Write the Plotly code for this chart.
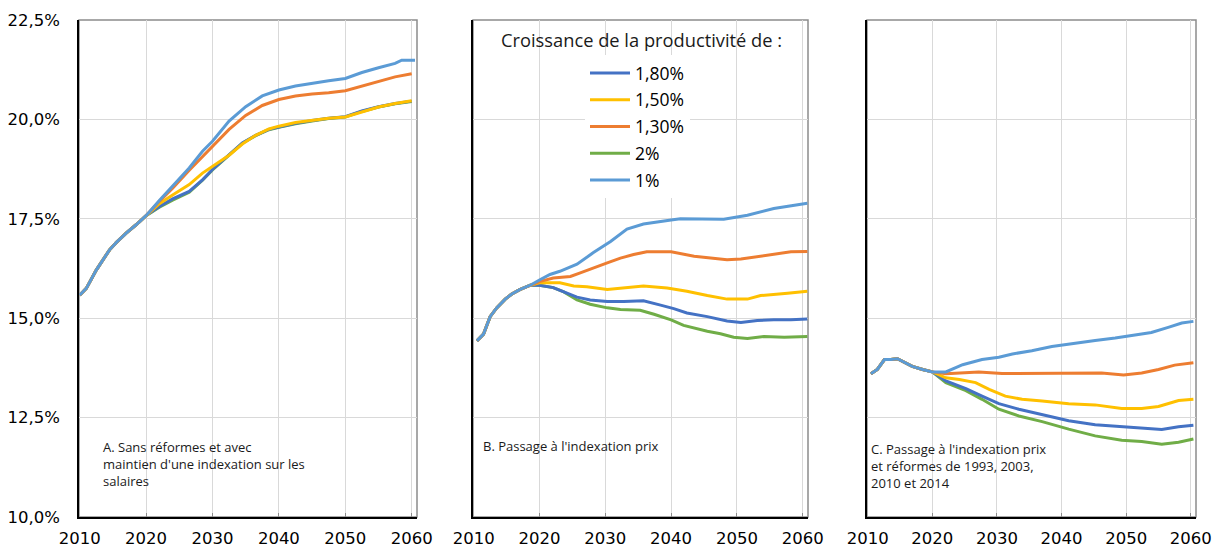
import plotly.graph_objects as go

# ---------------- DATA ----------------
series_names = ["1,80%", "1,50%", "1,30%", "2%", "1%"]
series_colors = ["#4472C4", "#FFC000", "#ED7D31", "#70AD47", "#5B9BD5"]

y_tickvals = [10.0, 12.5, 15.0, 17.5, 20.0, 22.5]
y_ticktext = ["10,0%", "12,5%", "15,0%", "17,5%", "20,0%", "22,5%"]
x_tickvals = [2010, 2020, 2030, 2040, 2050, 2060]

# Panel A (common start 2010-2020)
A_common_x = [2010, 2011, 2012.5, 2014.5, 2015.5, 2017, 2018.5, 2020]
A_common_y = [15.58, 15.75, 16.21, 16.72, 16.9, 17.14, 17.35, 17.58]
A_x = [2022, 2024, 2026.5, 2028.5, 2030, 2032.5, 2034.5, 2036.5, 2038.5, 2040,
       2042.5, 2045, 2047.5, 2050, 2052.5, 2055, 2057.5, 2060]
A_180 = [17.81, 18.0, 18.19, 18.48, 18.74, 19.12, 19.41, 19.6, 19.75, 19.81,
         19.9, 19.97, 20.03, 20.07, 20.21, 20.32, 20.4, 20.46]
A_200 = [17.79, 17.97, 18.17, 18.47, 18.73, 19.11, 19.4, 19.59, 19.74, 19.8,
         19.89, 19.96, 20.02, 20.06, 20.2, 20.31, 20.39, 20.45]
A_150 = [17.88, 18.1, 18.36, 18.65, 18.82, 19.1, 19.38, 19.6, 19.76, 19.83,
         19.92, 19.98, 20.03, 20.06, 20.19, 20.31, 20.4, 20.47]
A_130_x = [2022, 2024, 2026.5, 2028.5, 2030, 2032.5, 2035, 2037.5, 2040, 2042.5,
           2045, 2047.5, 2050, 2052.5, 2055, 2057.5, 2060]
A_130 = [17.94, 18.27, 18.72, 19.07, 19.33, 19.75, 20.1, 20.35, 20.5, 20.59,
         20.64, 20.67, 20.72, 20.84, 20.95, 21.07, 21.15]
A_100_x = [2022, 2024, 2026.5, 2028.5, 2030, 2032.5, 2035, 2037.5, 2040, 2042.5,
           2045, 2047.5, 2050, 2052.5, 2055, 2057.5, 2058.5, 2060.5]
A_100 = [17.96, 18.32, 18.78, 19.2, 19.45, 19.96, 20.32, 20.59, 20.74, 20.84,
         20.91, 20.97, 21.03, 21.18, 21.3, 21.41, 21.49, 21.49]

# Panel B (common start)
B_common_x = [2010.5, 2011.5, 2012.5, 2013.5, 2014.8, 2015.8, 2017, 2018.6]
B_common_y = [14.43, 14.6, 15.04, 15.26, 15.48, 15.61, 15.72, 15.83]
B_180_x = [2020, 2022.1, 2023.7, 2025.7, 2027.7, 2030.3, 2032.8, 2035.8, 2038.4, 2040.4,
           2042.4, 2045.5, 2048.5, 2050.6, 2053.1, 2055.6, 2058.2, 2060.7]
B_180 = [15.83, 15.77, 15.66, 15.53, 15.46, 15.42, 15.42, 15.44, 15.33, 15.24,
         15.13, 15.04, 14.93, 14.89, 14.94, 14.96, 14.96, 14.98]
B_200_x = [2020, 2022.1, 2023.7, 2025.7, 2027.7, 2030.3, 2032.3, 2035.3, 2037.4, 2040,
           2041.9, 2045.5, 2047.5, 2049.5, 2051.6, 2054.1, 2057.2, 2060.7]
B_200 = [15.83, 15.77, 15.66, 15.46, 15.35, 15.26, 15.22, 15.2, 15.1, 14.96,
         14.82, 14.67, 14.61, 14.52, 14.49, 14.54, 14.52, 14.54]
B_150_x = [2020, 2023.1, 2025.2, 2027.2, 2030.3, 2032.3, 2035.8, 2039.4, 2042.4, 2045.5,
           2048.5, 2051.6, 2053.6, 2057.7, 2060.7]
B_150 = [15.89, 15.89, 15.81, 15.79, 15.72, 15.75, 15.81, 15.76, 15.68, 15.57,
         15.48, 15.48, 15.57, 15.63, 15.68]
B_130_x = [2020, 2022.1, 2024.7, 2026.2, 2028.2, 2030.3, 2032.3, 2034.3, 2036.3, 2040,
           2043.5, 2046.5, 2048.5, 2050.6, 2053.6, 2055.6, 2058.2, 2060.7]
B_130 = [15.92, 16.01, 16.05, 16.14, 16.27, 16.39, 16.51, 16.6, 16.67, 16.67,
         16.56, 16.51, 16.47, 16.49, 16.56, 16.62, 16.67, 16.68]
B_100_x = [2020, 2021.6, 2023.1, 2025.7, 2028.2, 2030.8, 2033.3, 2035.8, 2040, 2041.4,
           2048, 2051.6, 2055.6, 2058.2, 2060.7]
B_100 = [15.96, 16.1, 16.18, 16.36, 16.65, 16.93, 17.24, 17.37, 17.47, 17.5,
         17.49, 17.59, 17.76, 17.83, 17.89]

# Panel C (common start)
C_common_x = [2010.5, 2011.5, 2012.6, 2013.6, 2014.6, 2015.4, 2016.9, 2018.5, 2020]
C_common_y = [13.6, 13.71, 13.96, 13.96, 13.98, 13.92, 13.79, 13.71, 13.65]
C_180_x = [2022.1, 2025.2, 2027.7, 2030.3, 2033.4, 2037, 2041.1, 2045.2, 2049.3,
           2052.4, 2055.5, 2058.1, 2060.4]
C_180 = [13.42, 13.23, 13.04, 12.85, 12.71, 12.58, 12.42, 12.32, 12.27,
         12.23, 12.2, 12.27, 12.31]
C_200_x = C_180_x
C_200 = [13.38, 13.18, 12.96, 12.71, 12.54, 12.4, 12.21, 12.04, 11.93,
         11.9, 11.83, 11.88, 11.96]
C_150_x = [2022.1, 2024.2, 2026.7, 2028.8, 2031.3, 2033.9, 2037, 2041.1, 2045.2,
           2049.3, 2052.4, 2055, 2058.1, 2060.4]
C_150 = [13.5, 13.46, 13.38, 13.21, 13.04, 12.96, 12.92, 12.85, 12.82,
         12.73, 12.73, 12.78, 12.93, 12.96]
C_130_x = [2022.1, 2024.7, 2027.2, 2030.8, 2035.9, 2041.1, 2046.2, 2049.6, 2052.4,
           2055, 2057.5, 2060.4]
C_130 = [13.6, 13.62, 13.65, 13.61, 13.61, 13.61, 13.62, 13.57, 13.62,
         13.71, 13.82, 13.88]
C_100_x = [2022.1, 2024.7, 2027.7, 2030.3, 2032.4, 2035.4, 2038.5, 2042.1, 2045.2,
           2048.3, 2051.4, 2053.9, 2056.5, 2058.6, 2060.4]
C_100 = [13.65, 13.83, 13.96, 14.02, 14.1, 14.18, 14.29, 14.38, 14.44,
         14.5, 14.57, 14.64, 14.77, 14.88, 14.92]

annot_A = "A. Sans réformes et avec<br>maintien d'une indexation sur les<br>salaires"
annot_B = "B. Passage à l'indexation prix"
annot_C = "C. Passage à l'indexation prix<br>et réformes de 1993, 2003,<br>2010 et 2014"
legend_title = "Croissance de la productivité de :"

# ---------------- FIGURE ----------------
W, H = 1214, 547
FONT = "Open Sans, DejaVu Sans, sans-serif"
TICKFONT = "DejaVu Sans, sans-serif"
fig = go.Figure()

panels = {
    "A": dict(xa="x", ya="y", common=(A_common_x, A_common_y),
              s={"1,80%": (A_x, A_180), "1,50%": (A_x, A_150), "1,30%": (A_130_x, A_130),
                 "2%": (A_x, A_200), "1%": (A_100_x, A_100)}),
    "B": dict(xa="x2", ya="y2", common=(B_common_x, B_common_y),
              s={"1,80%": (B_180_x, B_180), "1,50%": (B_150_x, B_150), "1,30%": (B_130_x, B_130),
                 "2%": (B_200_x, B_200), "1%": (B_100_x, B_100)}),
    "C": dict(xa="x3", ya="y3", common=(C_common_x, C_common_y),
              s={"1,80%": (C_180_x, C_180), "1,50%": (C_150_x, C_150), "1,30%": (C_130_x, C_130),
                 "2%": (C_200_x, C_200), "1%": (C_100_x, C_100)}),
}

draw_order = ["2%", "1,80%", "1,50%", "1,30%", "1%"]
for pname, p in panels.items():
    cx, cy = p["common"]
    for name in draw_order:
        i = series_names.index(name)
        sx, sy = p["s"][name]
        fig.add_trace(go.Scatter(
            x=list(cx) + list(sx), y=list(cy) + list(sy),
            mode="lines", name=name,
            line=dict(color=series_colors[i], width=3),
            xaxis=p["xa"], yaxis=p["ya"],
            showlegend=(pname == "B"), legendrank=i + 1,
            legendgroup="g%d" % i, hoverinfo="skip",
        ))

doms = [(79 / W, 417 / W), (473 / W, 808 / W), (867 / W, 1196 / W)]
ydom = (1 - 517 / H, 1 - 20 / H)

axis_common_x = dict(range=[2009.9, 2060.8], tickvals=x_tickvals, showgrid=True,
                     gridcolor="#D9D9D9", gridwidth=1, showline=True, linecolor="#000000",
                     linewidth=1.5, ticks="inside", ticklen=4, tickcolor="#8C8C8C",
                     tickfont=dict(family=TICKFONT, size=16.5, color="#000000"),
                     ticklabelstandoff=5, zeroline=False, fixedrange=True,
                     automargin=False)
axis_common_y = dict(range=[10, 22.5], tickvals=y_tickvals, ticktext=y_ticktext,
                     showgrid=True, gridcolor="#D9D9D9", gridwidth=1, showline=True,
                     linecolor="#000000", linewidth=1.5, ticks="", zeroline=False,
                     tickfont=dict(family=TICKFONT, size=16.5, color="#000000"),
                     ticklabelstandoff=14, fixedrange=True, domain=list(ydom),
                     automargin=False)

layout = dict(width=W, height=H, margin=dict(l=0, r=0, t=0, b=0, autoexpand=False),
              paper_bgcolor="white", plot_bgcolor="white", showlegend=True)
for k, (d0, d1) in enumerate(doms):
    sfx = "" if k == 0 else str(k + 1)
    xa = dict(axis_common_x, domain=[d0, d1], anchor="y" + sfx)
    ya = dict(axis_common_y, anchor="x" + sfx, showticklabels=(k == 0))
    layout["xaxis" + sfx] = xa
    layout["yaxis" + sfx] = ya
fig.update_layout(**layout)

# grey top/right frame
for k in range(3):
    sfx = "" if k == 0 else str(k + 1)
    fig.add_shape(type="rect", xref="x" + sfx + " domain", yref="y" + sfx + " domain",
                  x0=0, x1=1, y0=0, y1=1, line=dict(color="#8C8C8C", width=1.5),
                  layer="below")

fig.update_layout(legend=dict(
    x=585 / W, y=1 - 55 / H, xanchor="left", yanchor="top",
    bgcolor="white", borderwidth=0, tracegroupgap=1, itemwidth=40,
    font=dict(family=FONT, size=17.5, color="#000000"),
    traceorder="grouped",
))

def ann(text, x, y, size=13, xanchor="left", yanchor="top", align="left"):
    fig.add_annotation(text=text, x=x / W, y=1 - y / H, xref="paper", yref="paper",
                       showarrow=False, xanchor=xanchor, yanchor=yanchor, align=align,
                       font=dict(family=FONT, size=size, color="#1a1a1a"))

ann(annot_A, 101, 436)
ann(annot_B, 481, 435)
ann(annot_C, 869, 438)
ann(legend_title, 642, 40, size=18.3, xanchor="center", yanchor="middle", align="center")

fig.write_html("out.html", config={"displayModeBar": False},
               post_script="document.body.style.margin='0';document.body.style.padding='0';")
